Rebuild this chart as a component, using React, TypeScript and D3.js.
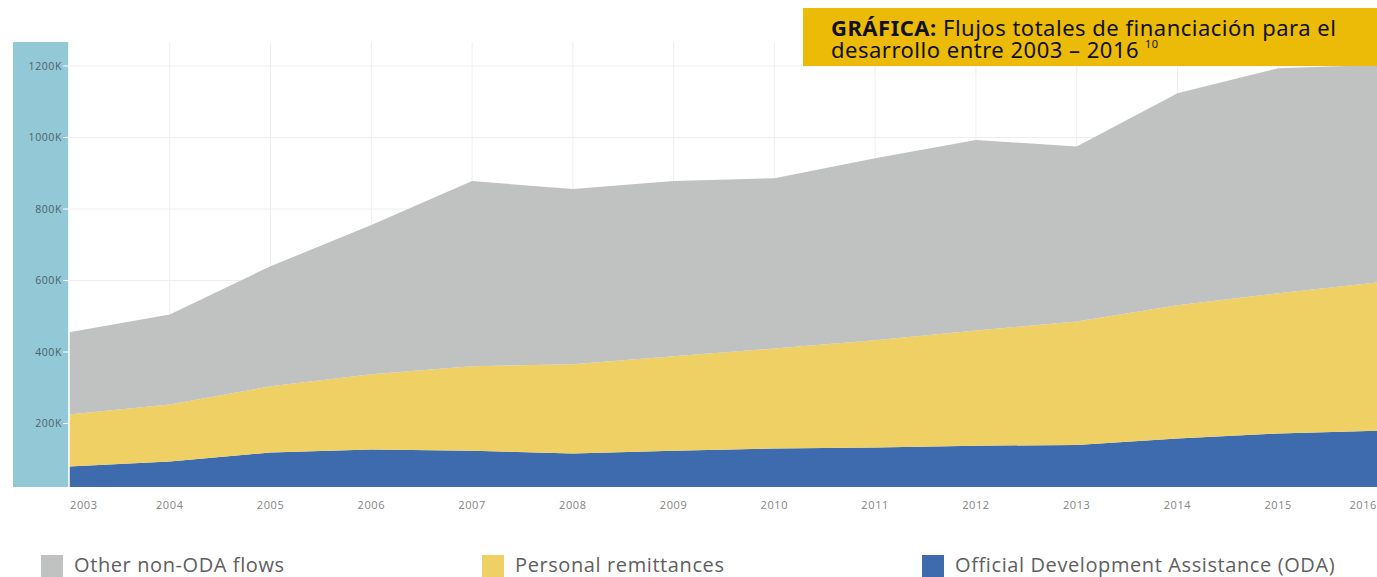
import React from "react";
import * as d3 from "d3";

const years = [2003, 2004, 2005, 2006, 2007, 2008, 2009, 2010, 2011, 2012, 2013, 2014, 2015, 2016];
// values in thousands
const odaValues = [80, 94, 119, 127, 124, 116, 124, 130, 133, 138, 140, 158, 172, 180];
const remittanceValues = [145, 159, 185, 211, 236, 250, 264, 280, 300, 322, 345, 373, 392, 415];
const otherValues = [230, 252, 336, 417, 518, 490, 490, 476, 509, 533, 490, 593, 630, 608];
const yTicks = [200, 400, 600, 800, 1000, 1200];
const seriesKeys = ["oda", "remit", "other"];
const seriesLabels = ["Other non-ODA flows", "Personal remittances", "Official Development Assistance (ODA)"];
const legendKeys = ["other", "remit", "oda"];
const colors: Record<string, string> = { oda: "#3e6aae", remit: "#efd064", other: "#c0c2c1" };

export default function App() {
  const W = 1377, H = 577;
  const plotLeft = 69, plotRight = 1379, plotTop = 42, plotBottom = 487;
  const x = d3.scaleLinear().domain([2003, 2016]).range([plotLeft, plotRight]);
  const y = d3.scaleLinear().domain([0, 1200]).range([495, 66]);

  const rows = years.map((yr, i) => ({ year: yr, oda: odaValues[i], remit: remittanceValues[i], other: otherValues[i] }));
  const stacked = d3.stack<any>().keys(seriesKeys)(rows);
  const area = d3.area<any>().x((d) => x(d.data.year)).y0((d) => y(d[0])).y1((d) => y(d[1]));

  const legendX = [41, 482, 922];

  return (
    <svg width={W} height={H} style={{ position: "absolute", left: 0, top: 0, background: "#fff" }}
      fontFamily="'Open Sans', sans-serif">
      <defs>
        <clipPath id="plotClip">
          <rect x={plotLeft} y={plotTop} width={W - plotLeft} height={plotBottom - plotTop} />
        </clipPath>
      </defs>
      {/* left axis band */}
      <rect x={13} y={plotTop} width={plotLeft - 13} height={plotBottom - plotTop} fill="#93c8d6" />
      {/* gridlines */}
      {yTicks.map((t) => (
        <line key={"h" + t} x1={plotLeft} x2={W} y1={y(t)} y2={y(t)} stroke="#eeeeee" strokeWidth={1} />
      ))}
      {years.map((yr) => (
        <line key={"v" + yr} x1={x(yr)} x2={x(yr)} y1={plotTop} y2={plotBottom} stroke="#eeeeee" strokeWidth={1} />
      ))}
      <g clipPath="url(#plotClip)">
        {stacked.map((s) => (
          <path key={s.key} d={area(s) || ""} fill={colors[s.key]} />
        ))}
      </g>
      <line x1={plotLeft} x2={plotLeft} y1={plotTop} y2={plotBottom} stroke="#ffffff" strokeWidth={1.5} />
      {/* y axis */}
      {yTicks.map((t) => (
        <g key={"yt" + t}>
          <line x1={63} x2={69} y1={y(t)} y2={y(t)} stroke="#ffffff" strokeWidth={1} />
          <text x={62} y={y(t)} dy="0.35em" textAnchor="end" fontSize={10.5} fill="#4e6169" letterSpacing={0.6}>
            {t + "K"}
          </text>
        </g>
      ))}
      {/* x axis labels */}
      {years.map((yr, i) => {
        const anchor = i === 0 ? "start" : i === years.length - 1 ? "end" : "middle";
        const xp = i === 0 ? x(yr) + 1 : i === years.length - 1 ? W : x(yr);
        return (
          <text key={"xt" + yr} x={xp} y={505} dy="0.35em" textAnchor={anchor} fontSize={11} fill="#858585" letterSpacing={0.6}>
            {yr}
          </text>
        );
      })}
      {/* legend */}
      {legendKeys.map((k, i) => (
        <g key={"lg" + k}>
          <rect x={legendX[i]} y={555} width={22} height={24} fill={colors[k]} />
          <text x={legendX[i] + 33} y={565} dy="0.35em" fontSize={20} fill="#606060" letterSpacing={0.6}>
            {seriesLabels[i]}
          </text>
        </g>
      ))}
      {/* title box */}
      <rect x={803} y={8} width={W - 803} height={58} fill="#ebbb07" />
      <text x={831} y={36} fontSize={22} fill="#111" letterSpacing={0.5} fontFamily="'Noto Sans', 'Open Sans', sans-serif">
        <tspan fontWeight="bold">GRÁFICA:</tspan>
        <tspan> Flujos totales de financiación para el</tspan>
      </text>
      <text x={831} y={58} fontSize={22} fill="#111" letterSpacing={0.5} fontFamily="'Noto Sans', 'Open Sans', sans-serif">
        desarrollo entre 2003 – 2016
        <tspan fontSize={11} dy={-10} dx={6}>10</tspan>
      </text>
    </svg>
  );
}
